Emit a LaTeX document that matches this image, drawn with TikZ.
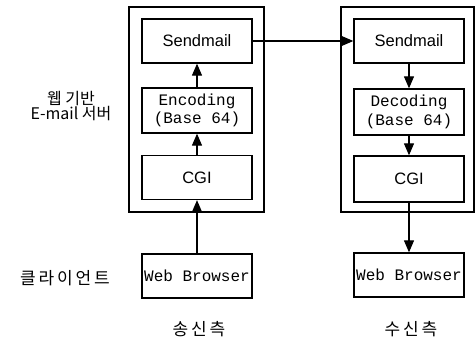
\documentclass[tikz,border=0pt]{standalone}
\usepackage{fontspec}
\setmainfont{Liberation Sans}
\newfontfamily\monof{Liberation Mono}
\newfontfamily\krf{Noto Sans CJK KR}
\usetikzlibrary{arrows.meta}
\tikzset{
  outerbox/.style={draw, line width=1.3pt},
  inbox/.style={draw, line width=1.3pt, minimum width=110pt, minimum height=44pt, inner sep=0pt, align=center},
  sanslabel/.style={font=\fontsize{16.5}{18}\selectfont},
  monolabel/.style={font=\monof\fontsize{16}{18.5}\selectfont},
  krlabel/.style={font=\krf\fontsize{17}{19}\selectfont},
  conn/.style={line width=1.2pt, -{Triangle[length=12pt,width=10pt]}}
}
\begin{document}
\begin{tikzpicture}[x=1pt,y=-1pt]
\useasboundingbox (0,0) rectangle (476,340);
% outer boxes
\draw[outerbox] (129,7) rectangle (264,212);
\draw[outerbox] (341,7) rectangle (474,212);
% left column
\node[inbox, sanslabel] (ls) at (197,41) {Sendmail};
\node[inbox, monolabel, minimum height=45pt] (le) at (197,110.5) {Encoding\\(Base 64)};
\node[inbox, sanslabel] (lc) at (197,177.5) {CGI};
\node[inbox, monolabel] (lw) at (197,276) {Web Browser};
% right column
\node[inbox, sanslabel] (rs) at (409,41) {Sendmail};
\node[inbox, monolabel, minimum height=46pt] (rd) at (409,112) {Decoding\\(Base 64)};
\node[inbox, sanslabel, minimum height=46pt] (rc) at (409,179) {CGI};
\node[inbox, monolabel] (rw) at (409,275) {Web Browser};
% connectors
\draw[conn] (le.north) -- (ls.south);
\draw[conn] (lc.north) -- (le.south);
\draw[conn] (lw.north) -- (lc.south);
\draw[conn] (ls.east) -- (rs.west);
\draw[conn] (rs.south) -- (rd.north);
\draw[conn] (rd.south) -- (rc.north);
\draw[conn] (rc.south) -- (rw.north);
% labels
\node[font=\krf\fontsize{16}{14}\selectfont, align=center] (lab1) at (71,106) {웹 기반\\E-mail 서버};
\node[krlabel] (lab2) at (65,278) {클\,라\,이\,언\,트};
\node[krlabel] (lab3) at (199,329) {송\,신\,측};
\node[krlabel] (lab4) at (411,329) {수\,신\,측};
\end{tikzpicture}
\end{document}
